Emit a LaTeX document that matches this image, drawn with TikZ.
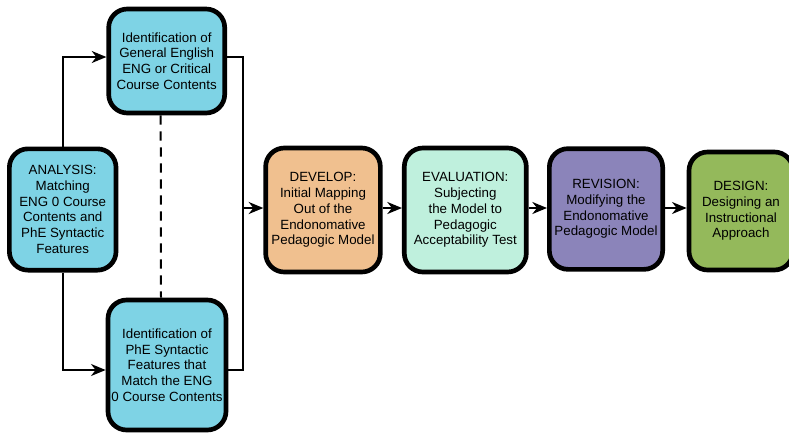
\documentclass[tikz,border=0pt]{standalone}
\usepackage{fontspec}
\setmainfont{Liberation Sans}
\usetikzlibrary{arrows.meta}

\definecolor{boxcyan}{RGB}{126,211,229}
\definecolor{boxorange}{RGB}{240,192,143}
\definecolor{boxmint}{RGB}{191,240,221}
\definecolor{boxpurple}{RGB}{139,132,186}
\definecolor{boxgreen}{RGB}{148,185,91}

\begin{document}
\begin{tikzpicture}[x=0.75pt,y=0.75pt,yscale=-1,xscale=1,
	stagebox/.style={draw=black,line width=3.5pt,rounded corners=14pt,align=center,inner sep=1pt,
		font=\fontsize{10}{11.8}\selectfont},
	link/.style={draw=black,line width=1.5pt},
	arrlink/.style={link,-{Stealth[length=11pt,width=9pt,inset=3.5pt]}}]
	\useasboundingbox (0,0) rectangle (789,433);
	
	%Left column
	\node [stagebox,fill=boxcyan,minimum width=80pt,minimum height=91pt] (analysis) at (62.7,209.5) {ANALYSIS:\\Matching\\ENG 0 Course\\Contents and\\PhE Syntactic\\Features};
	\node [stagebox,fill=boxcyan,minimum width=87pt,minimum height=78pt] (ident1) at (166.7,61) {Identification of\\General English\\ENG or Critical\\Course Contents};
	\node [stagebox,fill=boxcyan,minimum width=88.5pt,minimum height=97.5pt] (ident2) at (167,365) {Identification of\\PhE Syntactic\\Features that\\Match the ENG\\0 Course Contents};
	
	%Stages in a row
	\node [stagebox,fill=boxorange,minimum width=86pt,minimum height=93pt] (develop) at (323,210) {DEVELOP:\\Initial Mapping\\Out of the\\Endonomative\\Pedagogic Model};
	\node [stagebox,fill=boxmint,minimum width=91.5pt,minimum height=93pt] (evaluation) at (465.3,210) {EVALUATION:\\Subjecting\\the Model to\\Pedagogic\\Acceptability Test};
	\node [stagebox,fill=boxpurple,minimum width=85pt,minimum height=90.5pt] (revision) at (606,209) {REVISION:\\Modifying the\\Endonomative\\Pedagogic Model};
	\node [stagebox,fill=boxgreen,minimum width=78pt,minimum height=88.5pt] (design) at (741,211) {DESIGN:\\Designing an\\Instructional\\Approach};
	
	\coordinate (merge) at (243,208);
	
	%Connectors
	\draw [arrlink] (analysis.north) |- ([yshift=-3pt]ident1.west);
	\draw [arrlink] (analysis.south) |- ([yshift=3.75pt]ident2.west);
	\draw [link] ([yshift=-3pt]ident1.east) -| (merge) |- ([yshift=3.75pt]ident2.east);
	\draw [link,dash pattern={on 7pt off 5pt}] ([xshift=-4.5pt]ident1.south) -- ([xshift=-4.5pt]ident2.north);
	\draw [arrlink] (merge) -- (merge -| develop.west);
	\draw [arrlink] (develop.east |- merge) -- (evaluation.west |- merge);
	\draw [arrlink] (evaluation.east |- merge) -- (revision.west |- merge);
	\draw [arrlink] (revision.east |- merge) -- (design.west |- merge);
	
\end{tikzpicture}
\end{document}
